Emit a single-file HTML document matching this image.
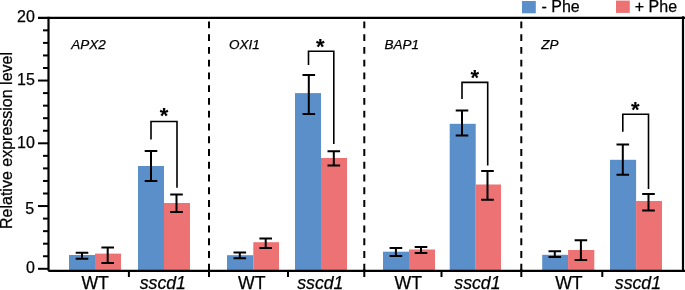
<!DOCTYPE html>
<html><head><meta charset="utf-8"><style>
html,body{margin:0;padding:0;background:#fff;width:685px;height:290px;overflow:hidden}
svg{display:block;font-family:"Liberation Sans", sans-serif;will-change:transform}
text{stroke:#000;stroke-width:0.25px}
</style></head><body>
<svg width="685" height="290" viewBox="0 0 685 290">
<rect width="685" height="290" fill="#fff"/>
<rect x="69" y="255" width="26.00" height="15.80" fill="#5b8fc9"/>
<rect x="95" y="253.6" width="26.00" height="17.20" fill="#ec7274"/>
<rect x="138" y="166" width="26.00" height="104.80" fill="#5b8fc9"/>
<rect x="164" y="203" width="26.00" height="67.80" fill="#ec7274"/>
<rect x="227" y="255.2" width="26.30" height="15.60" fill="#5b8fc9"/>
<rect x="253.3" y="242.2" width="25.70" height="28.60" fill="#ec7274"/>
<rect x="295" y="93.1" width="26.00" height="177.70" fill="#5b8fc9"/>
<rect x="321" y="158" width="26.00" height="112.80" fill="#ec7274"/>
<rect x="383" y="251.7" width="26.00" height="19.10" fill="#5b8fc9"/>
<rect x="409" y="249.5" width="26.00" height="21.30" fill="#ec7274"/>
<rect x="449.7" y="123.8" width="26.00" height="147.00" fill="#5b8fc9"/>
<rect x="475.7" y="184.5" width="25.30" height="86.30" fill="#ec7274"/>
<rect x="542.2" y="254.8" width="25.90" height="16.00" fill="#5b8fc9"/>
<rect x="568.1" y="250" width="26.20" height="20.80" fill="#ec7274"/>
<rect x="610" y="159.8" width="26.10" height="111.00" fill="#5b8fc9"/>
<rect x="636.1" y="201" width="25.90" height="69.80" fill="#ec7274"/>
<path d="M82 252.8V258.7M75.70 252.8H88.30M75.70 258.7H88.30" stroke="#000" stroke-width="2" fill="none"/>
<path d="M107.7 247.5V262.9M101.40 247.5H114.00M101.40 262.9H114.00" stroke="#000" stroke-width="2" fill="none"/>
<path d="M151 151V181M144.70 151H157.30M144.70 181H157.30" stroke="#000" stroke-width="2" fill="none"/>
<path d="M176.5 194.5V212M170.20 194.5H182.80M170.20 212H182.80" stroke="#000" stroke-width="2" fill="none"/>
<path d="M239.8 252.6V258.3M233.50 252.6H246.10M233.50 258.3H246.10" stroke="#000" stroke-width="2" fill="none"/>
<path d="M265.7 238.4V247.9M259.40 238.4H272.00M259.40 247.9H272.00" stroke="#000" stroke-width="2" fill="none"/>
<path d="M308.8 74.9V113.9M302.50 74.9H315.10M302.50 113.9H315.10" stroke="#000" stroke-width="2" fill="none"/>
<path d="M333.8 151.2V165.5M327.50 151.2H340.10M327.50 165.5H340.10" stroke="#000" stroke-width="2" fill="none"/>
<path d="M395.9 247.9V256M389.60 247.9H402.20M389.60 256H402.20" stroke="#000" stroke-width="2" fill="none"/>
<path d="M421 246.9V253.1M414.70 246.9H427.30M414.70 253.1H427.30" stroke="#000" stroke-width="2" fill="none"/>
<path d="M462 110.5V135.5M455.70 110.5H468.30M455.70 135.5H468.30" stroke="#000" stroke-width="2" fill="none"/>
<path d="M487.5 171V199.7M481.20 171H493.80M481.20 199.7H493.80" stroke="#000" stroke-width="2" fill="none"/>
<path d="M554.8 251.2V256.9M548.50 251.2H561.10M548.50 256.9H561.10" stroke="#000" stroke-width="2" fill="none"/>
<path d="M580.9 240.2V260M574.60 240.2H587.20M574.60 260H587.20" stroke="#000" stroke-width="2" fill="none"/>
<path d="M622.8 144.6V174.7M616.50 144.6H629.10M616.50 174.7H629.10" stroke="#000" stroke-width="2" fill="none"/>
<path d="M648.5 194V210.6M642.20 194H654.80M642.20 210.6H654.80" stroke="#000" stroke-width="2" fill="none"/>
<path d="M151 139.4V121.5H177V187.8" stroke="#000" stroke-width="1.6" fill="none"/>
<text x="164" y="122.90" font-family="Liberation Sans" font-size="22" font-weight="bold" text-anchor="middle" style="stroke-width:0.1px">*</text>
<path d="M308.5 65V51.2H333.8V144" stroke="#000" stroke-width="1.6" fill="none"/>
<text x="320.2" y="53.50" font-family="Liberation Sans" font-size="22" font-weight="bold" text-anchor="middle" style="stroke-width:0.1px">*</text>
<path d="M462 99V82.4H487.7V165.5" stroke="#000" stroke-width="1.6" fill="none"/>
<text x="474.8" y="85.10" font-family="Liberation Sans" font-size="22" font-weight="bold" text-anchor="middle" style="stroke-width:0.1px">*</text>
<path d="M622.8 131.8V114.2H648.5V189" stroke="#000" stroke-width="1.6" fill="none"/>
<text x="635.3" y="117.40" font-family="Liberation Sans" font-size="22" font-weight="bold" text-anchor="middle" style="stroke-width:0.1px">*</text>
<line x1="209" y1="21.4" x2="209" y2="271" stroke="#000" stroke-width="2" stroke-dasharray="6.9 5.86"/>
<line x1="209" y1="269" x2="209" y2="277" stroke="#000" stroke-width="2"/>
<line x1="364.3" y1="21.4" x2="364.3" y2="271" stroke="#000" stroke-width="2" stroke-dasharray="6.9 5.86"/>
<line x1="364.3" y1="269" x2="364.3" y2="277" stroke="#000" stroke-width="2"/>
<line x1="521.3" y1="21.4" x2="521.3" y2="271" stroke="#000" stroke-width="2" stroke-dasharray="6.9 5.86"/>
<line x1="521.3" y1="269" x2="521.3" y2="277" stroke="#000" stroke-width="2"/>
<line x1="128.9" y1="270" x2="128.9" y2="277" stroke="#000" stroke-width="2"/>
<line x1="288" y1="270" x2="288" y2="277" stroke="#000" stroke-width="2"/>
<line x1="441.5" y1="270" x2="441.5" y2="277" stroke="#000" stroke-width="2"/>
<line x1="602.3" y1="270" x2="602.3" y2="277" stroke="#000" stroke-width="2"/>
<path d="M48.5 16.8V270.8" stroke="#000" stroke-width="2.2" fill="none"/>
<path d="M38 17.8H685" stroke="#000" stroke-width="2.2" fill="none"/>
<path d="M683 16.3V271.8" stroke="#000" stroke-width="2.2" fill="none"/>
<path d="M48.3 270.8H685" stroke="#000" stroke-width="2.2" fill="none"/>
<line x1="38" y1="268.80" x2="48.5" y2="268.80" stroke="#000" stroke-width="2"/>
<line x1="43" y1="256.25" x2="48.5" y2="256.25" stroke="#000" stroke-width="2"/>
<line x1="43" y1="243.70" x2="48.5" y2="243.70" stroke="#000" stroke-width="2"/>
<line x1="43" y1="231.15" x2="48.5" y2="231.15" stroke="#000" stroke-width="2"/>
<line x1="43" y1="218.60" x2="48.5" y2="218.60" stroke="#000" stroke-width="2"/>
<line x1="38" y1="206.05" x2="48.5" y2="206.05" stroke="#000" stroke-width="2"/>
<line x1="43" y1="193.50" x2="48.5" y2="193.50" stroke="#000" stroke-width="2"/>
<line x1="43" y1="180.95" x2="48.5" y2="180.95" stroke="#000" stroke-width="2"/>
<line x1="43" y1="168.40" x2="48.5" y2="168.40" stroke="#000" stroke-width="2"/>
<line x1="43" y1="155.85" x2="48.5" y2="155.85" stroke="#000" stroke-width="2"/>
<line x1="38" y1="143.30" x2="48.5" y2="143.30" stroke="#000" stroke-width="2"/>
<line x1="43" y1="130.75" x2="48.5" y2="130.75" stroke="#000" stroke-width="2"/>
<line x1="43" y1="118.20" x2="48.5" y2="118.20" stroke="#000" stroke-width="2"/>
<line x1="43" y1="105.65" x2="48.5" y2="105.65" stroke="#000" stroke-width="2"/>
<line x1="43" y1="93.10" x2="48.5" y2="93.10" stroke="#000" stroke-width="2"/>
<line x1="38" y1="80.55" x2="48.5" y2="80.55" stroke="#000" stroke-width="2"/>
<line x1="43" y1="68.00" x2="48.5" y2="68.00" stroke="#000" stroke-width="2"/>
<line x1="43" y1="55.45" x2="48.5" y2="55.45" stroke="#000" stroke-width="2"/>
<line x1="43" y1="42.90" x2="48.5" y2="42.90" stroke="#000" stroke-width="2"/>
<line x1="43" y1="30.35" x2="48.5" y2="30.35" stroke="#000" stroke-width="2"/>
<text x="34.80" y="273.00" font-family="Liberation Sans" font-size="16" text-anchor="end">0</text>
<text x="34.10" y="214.25" font-family="Liberation Sans" font-size="16" text-anchor="end">5</text>
<text x="34.80" y="147.50" font-family="Liberation Sans" font-size="16" text-anchor="end">10</text>
<text x="34.80" y="84.75" font-family="Liberation Sans" font-size="16" text-anchor="end">15</text>
<text x="34.80" y="22.00" font-family="Liberation Sans" font-size="16" text-anchor="end">20</text>
<text transform="translate(11.8,140.5) rotate(-90)" font-family="Liberation Sans" font-size="16" text-anchor="middle">Relative expression level</text>
<text x="71.2" y="49.1" font-family="Liberation Sans" font-size="13.5" font-style="italic">APX2</text>
<text x="228.9" y="49.1" font-family="Liberation Sans" font-size="13.5" font-style="italic">OXI1</text>
<text x="384.5" y="49.1" font-family="Liberation Sans" font-size="13.5" font-style="italic">BAP1</text>
<text x="541.3" y="49.1" font-family="Liberation Sans" font-size="13.5" font-style="italic">ZP</text>
<text x="95.15" y="289.4" font-family="Liberation Sans" font-size="17.7" text-anchor="middle">WT</text>
<text x="251.8" y="289.4" font-family="Liberation Sans" font-size="17.7" text-anchor="middle">WT</text>
<text x="408.3" y="289.4" font-family="Liberation Sans" font-size="17.7" text-anchor="middle">WT</text>
<text x="568.9" y="289.4" font-family="Liberation Sans" font-size="17.7" text-anchor="middle">WT</text>
<text x="162.8" y="289.4" font-family="Liberation Sans" font-size="17.7" font-style="italic" text-anchor="middle">sscd1</text>
<text x="320.3" y="289.4" font-family="Liberation Sans" font-size="17.7" font-style="italic" text-anchor="middle">sscd1</text>
<text x="477.4" y="289.4" font-family="Liberation Sans" font-size="17.7" font-style="italic" text-anchor="middle">sscd1</text>
<text x="637.9" y="289.4" font-family="Liberation Sans" font-size="17.7" font-style="italic" text-anchor="middle">sscd1</text>
<rect x="522" y="1" width="13.8" height="12.3" fill="#5b8fc9"/>
<rect x="616" y="0.6" width="13.8" height="12.3" fill="#ec7274"/>
<text x="541.5" y="12" font-family="Liberation Sans" font-size="16">- Phe</text>
<text x="634.8" y="12" font-family="Liberation Sans" font-size="16">+ Phe</text>
</svg>
</body></html>
